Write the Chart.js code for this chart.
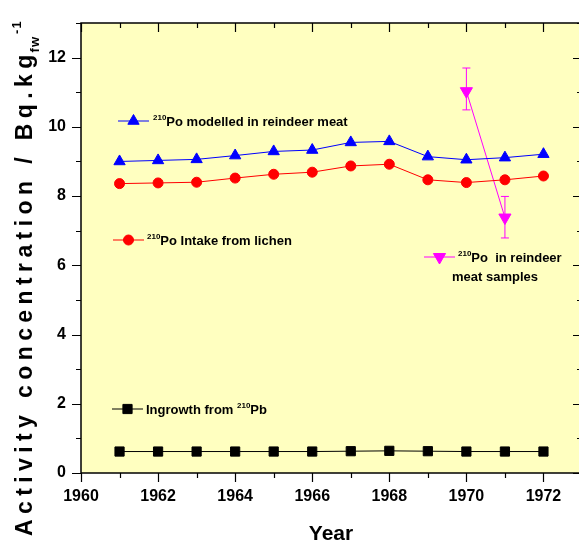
<!DOCTYPE html>
<html>
<head>
<meta charset="utf-8">
<script src="https://cdn.jsdelivr.net/npm/chart.js@4.4.1/dist/chart.umd.min.js"></script>
<style>
html,body{margin:0;padding:0;background:#fff;overflow:hidden;width:579px;height:543px;}
#wrap{width:590px;height:543px;}
</style>
</head>
<body>
<div id="wrap"><canvas id="c" width="590" height="543"></canvas></div>
<script>
// ---- data ----
const years = [1961,1962,1963,1964,1965,1966,1967,1968,1969,1970,1971,1972];
const modelled = [9.00,9.03,9.06,9.17,9.29,9.33,9.55,9.58,9.14,9.05,9.11,9.21];
const intake = [8.36,8.38,8.40,8.52,8.63,8.69,8.87,8.92,8.47,8.39,8.47,8.58];
const ingrowth = [0.62,0.62,0.62,0.62,0.62,0.62,0.63,0.64,0.63,0.62,0.62,0.62];
const sampleYears = [1970,1971];
const samples = [11.03,7.38];
const sampleLow = [10.49,6.79];
const sampleHigh = [11.70,7.99];
const xTickLabels = [1960,1962,1964,1966,1968,1970,1972];
const yTickLabels = [0,2,4,6,8,10,12];

const FONT = "'Liberation Sans', Arial, sans-serif";
const pts = (xs, ys) => xs.map((x,i)=>({x:x, y:ys[i]}));

const plotBg = {
  id:'plotBg',
  beforeDraw(chart){
    const {ctx, chartArea:a} = chart;
    ctx.save();
    ctx.fillStyle = '#ffffff';
    ctx.fillRect(0,0,chart.width,chart.height);
    ctx.fillStyle = '#FFFFC0';
    ctx.fillRect(a.left,a.top,a.right-a.left,a.bottom-a.top);
    ctx.restore();
  }
};

function drawRich(ctx, parts, x, y){
  let cx = x;
  for(const p of parts){
    ctx.font = 'bold ' + p.size + 'px ' + FONT;
    ctx.fillText(p.t, cx, y + (p.dy||0));
    cx += ctx.measureText(p.t).width + (p.gap||0);
  }
}

const decor = {
  id:'decor',
  afterDatasetsDraw(chart){
    const {ctx, chartArea:a, scales:{x, y}} = chart;
    ctx.save();
    // error bars
    ctx.strokeStyle = '#FF00FF';
    ctx.lineWidth = 1;
    sampleYears.forEach((yr,i)=>{
      const px = x.getPixelForValue(yr);
      const lo = y.getPixelForValue(sampleLow[i]);
      const hi = y.getPixelForValue(sampleHigh[i]);
      ctx.beginPath();
      ctx.moveTo(px, lo); ctx.lineTo(px, hi);
      ctx.moveTo(px-4, lo); ctx.lineTo(px+4, lo);
      ctx.moveTo(px-4, hi); ctx.lineTo(px+4, hi);
      ctx.stroke();
    });
    // frame
    ctx.strokeStyle = '#000';
    ctx.lineWidth = 1.5;
    ctx.strokeRect(a.left, a.top, a.right-a.left, a.bottom-a.top);
    // ticks
    ctx.lineWidth = 1.2;
    ctx.beginPath();
    for(let v=1960; v<=1973; v++){
      const px = Math.round(x.getPixelForValue(v))+0.5;
      const len = (v%2===0)?9:5;
      ctx.moveTo(px, a.bottom); ctx.lineTo(px, a.bottom+len);
      ctx.moveTo(px, a.top); ctx.lineTo(px, a.top+len);
    }
    for(let v=0; v<=13; v++){
      const py = Math.round(y.getPixelForValue(v))+0.5;
      const len = (v%2===0)?9:5;
      ctx.moveTo(a.left, py); ctx.lineTo(a.left-len, py);
      ctx.moveTo(a.right, py); ctx.lineTo(a.right-len, py);
    }
    ctx.stroke();

    // legends
    const H = Chart.helpers;
    function sample(x1, x2, yy, color, style, radius, rot){
      ctx.strokeStyle = color; ctx.lineWidth = 1;
      ctx.beginPath(); ctx.moveTo(x1, yy); ctx.lineTo(x2, yy); ctx.stroke();
      ctx.fillStyle = color; ctx.strokeStyle = color;
      H.drawPoint(ctx, {pointStyle:style, radius:radius, rotation:rot||0, borderWidth:1}, (x1+x2)/2, yy);
    }
    ctx.textBaseline = 'alphabetic';
    ctx.textAlign = 'left';

    sample(118, 149, 121, '#0000FF', 'triangle', 6.5, 0);
    ctx.fillStyle = '#000';
    drawRich(ctx, [{t:'210', size:8, dy:-6},{t:'Po modelled in reindeer meat', size:13}], 153, 126);

    sample(113, 144, 240, '#FF0000', 'circle', 5, 0);
    ctx.fillStyle = '#000';
    drawRich(ctx, [{t:'210', size:8, dy:-6},{t:'Po Intake from lichen', size:13}], 147, 245);

    sample(424, 455, 257, '#FF00FF', 'triangle', 7, 180);
    ctx.fillStyle = '#000';
    drawRich(ctx, [{t:'210', size:8, dy:-6},{t:'Po  in reindeer', size:13}], 458, 262);
    drawRich(ctx, [{t:'meat samples', size:13}], 452, 281);

    sample(112, 143, 409, '#000000', 'rect', 6.5, 0);
    ctx.fillStyle = '#000';
    drawRich(ctx, [{t:'Ingrowth from ', size:13},{t:'210', size:8, dy:-6},{t:'Pb', size:13}], 146, 414);

    // axis titles
    ctx.font = 'bold 21px ' + FONT;
    ctx.textAlign = 'center';
    ctx.fillText('Year', 331, 540);

    ctx.textAlign = 'left';
    ctx.save();
    ctx.translate(32, 536);
    ctx.rotate(-Math.PI/2);
    ctx.font = 'bold 23px ' + FONT;
    try { ctx.letterSpacing = '5.4px'; } catch(e) {}
    const main = 'Activity concentration / Bq.kg';
    ctx.fillText(main, 0, 0);
    let w = ctx.measureText(main).width;
    ctx.font = 'bold 13px ' + FONT;
    try { ctx.letterSpacing = '1px'; } catch(e) {}
    ctx.fillText('fw', w - 3, 7);
    const w2 = ctx.measureText('fw').width;
    ctx.font = 'bold 13px ' + FONT;
    ctx.fillText('-1', w - 3 + w2 + 2, -11);
    ctx.restore();

    ctx.restore();
  }
};

new Chart(document.getElementById('c'), {
  type:'line',
  data:{
    datasets:[
      {label:'210Po modelled in reindeer meat', data:pts(years, modelled), borderColor:'#0000FF', backgroundColor:'#0000FF', borderWidth:1, pointStyle:'triangle', pointRadius:6.5, pointBorderWidth:1, tension:0},
      {label:'210Po Intake from lichen', data:pts(years, intake), borderColor:'#FF0000', backgroundColor:'#FF0000', borderWidth:1, pointStyle:'circle', pointRadius:5, pointBorderWidth:1, tension:0},
      {label:'Ingrowth from 210Pb', data:pts(years, ingrowth), borderColor:'#000000', backgroundColor:'#000000', borderWidth:1, pointStyle:'rect', pointRadius:6.5, pointBorderWidth:1, tension:0},
      {label:'210Po in reindeer meat samples', data:pts(sampleYears, samples), borderColor:'#FF00FF', backgroundColor:'#FF00FF', borderWidth:1, pointStyle:'triangle', pointRotation:180, pointRadius:7, pointBorderWidth:1, tension:0}
    ]
  },
  options:{
    responsive:false,
    animation:false,
    devicePixelRatio:1,
    layout:{padding:{top:23, right:1, left:0, bottom:0}},
    plugins:{legend:{display:false}, tooltip:{enabled:false}},
    scales:{
      x:{
        type:'linear', min:1960, max:1973,
        afterFit(s){ s.height = 70; s.paddingLeft = 0; s.paddingRight = 0; },
        grid:{display:true, drawOnChartArea:false, drawTicks:false, color:'rgba(0,0,0,0)'},
        border:{display:false},
        ticks:{stepSize:1, autoSkip:false, maxRotation:0, padding:14, color:'#000',
          font:{family:FONT, size:16, weight:'bold'},
          callback:(v)=> xTickLabels.includes(v) ? String(v) : ''}
      },
      y:{
        type:'linear', min:0, max:13,
        afterFit(s){ s.width = 81; s.paddingTop = 0; s.paddingBottom = 0; },
        grid:{display:true, drawOnChartArea:false, drawTicks:false, color:'rgba(0,0,0,0)'},
        border:{display:false},
        ticks:{stepSize:1, autoSkip:false, padding:15, color:'#000',
          font:{family:FONT, size:16, weight:'bold'},
          callback:(v)=> yTickLabels.includes(v) ? String(v) : ''}
      }
    }
  },
  plugins:[plotBg, decor]
});
</script>
</body>
</html>
